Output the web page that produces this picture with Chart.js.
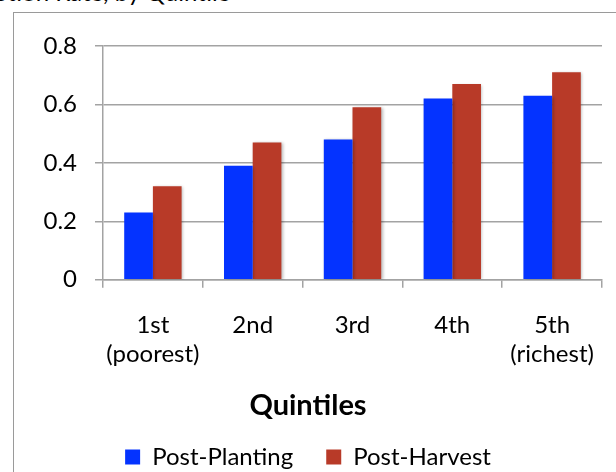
<!DOCTYPE html>
<html>
<head>
<meta charset="utf-8">
<script src="https://cdn.jsdelivr.net/npm/chart.js@4.4.1/dist/chart.umd.min.js"></script>
<style>
  html, body { margin: 0; padding: 0; width: 616px; height: 472px; overflow: hidden; background: #fff; }
  #cap { position: absolute; left: -49px; top: -20px; font: 24px Lato, sans-serif; color: #000; white-space: nowrap; line-height: 24px; }
  #frame { position: absolute; left: 13px; top: 12px; width: 608px; height: 479px; border: 1px solid #9a9a9a; }
  canvas { display: block; }
</style>
</head>
<body>
<div id="cap">Adoption Rate, by Quintile</div>
<div id="frame"><canvas id="c" width="608" height="466"></canvas></div>
<script>
// Quintile categories (multi-line axis labels)
const categories = [['1st', '(poorest)'], ['2nd'], ['3rd'], ['4th'], ['5th', '(richest)']];
// Share per quintile for each survey round
const postPlanting = [0.23, 0.39, 0.48, 0.62, 0.63];
const postHarvest  = [0.32, 0.47, 0.59, 0.67, 0.71];
// Value axis labels
const yTickLabels = ['0', '0.2', '0.4', '0.6', '0.8'];

const axisGray = '#a3a3a3';

// Soft drop shadow behind the bars
const barShadow = {
  id: 'barShadow',
  beforeDatasetsDraw(chart) {
    const ctx = chart.ctx;
    ctx.save();
    ctx.shadowColor = 'rgba(0,0,0,0.28)';
    ctx.shadowBlur = 3;
    ctx.shadowOffsetX = 1.5;
    ctx.shadowOffsetY = 1;
  },
  afterDatasetsDraw(chart) {
    chart.ctx.restore();
  }
};

function draw() {
  Chart.defaults.font.family = 'Lato, sans-serif';
  Chart.defaults.color = '#000';

  new Chart(document.getElementById('c'), {
    type: 'bar',
    data: {
      labels: categories,
      datasets: [
        { label: 'Post-Planting', data: postPlanting, backgroundColor: '#0433ff', categoryPercentage: 0.575, barPercentage: 1.0 },
        { label: 'Post-Harvest',  data: postHarvest,  backgroundColor: '#b83a28', categoryPercentage: 0.575, barPercentage: 1.0 }
      ]
    },
    options: {
      responsive: false,
      animation: false,
      layout: { padding: { top: 33, right: 20, left: 0, bottom: 0 } },
      scales: {
        x: {
          grid: { drawOnChartArea: false, drawTicks: true, tickLength: 8, color: axisGray, lineWidth: 1.5 },
          border: { color: axisGray, width: 1.5 },
          ticks: { font: { size: 24, lineHeight: 1.2 }, padding: 23, maxRotation: 0 },
          afterFit(scale) { scale.height = 100; }
        },
        y: {
          min: 0,
          max: 0.8,
          grid: { color: axisGray, lineWidth: 1.5, tickLength: 8 },
          border: { color: axisGray, width: 1.5 },
          ticks: {
            stepSize: 0.2,
            padding: 18,
            font: { size: 24 },
            callback: (value, index) => yTickLabels[index]
          },
          afterFit(scale) { scale.width = 89; }
        }
      },
      plugins: {
        tooltip: { enabled: false },
        title: {
          display: true,
          text: 'Quintiles',
          position: 'bottom',
          weight: 500,
          font: { size: 29, weight: 'bold', lineHeight: 1.0 },
          padding: { top: 11, bottom: -7.7 }
        },
        legend: {
          position: 'bottom',
          labels: { font: { size: 24 }, boxWidth: 15, boxHeight: 15, padding: 33 }
        }
      }
    },
    plugins: [barShadow]
  });
}

Promise.all([
  document.fonts.load('24px Lato'),
  document.fonts.load('bold 29px Lato')
]).then(draw, draw);
</script>
</body>
</html>
